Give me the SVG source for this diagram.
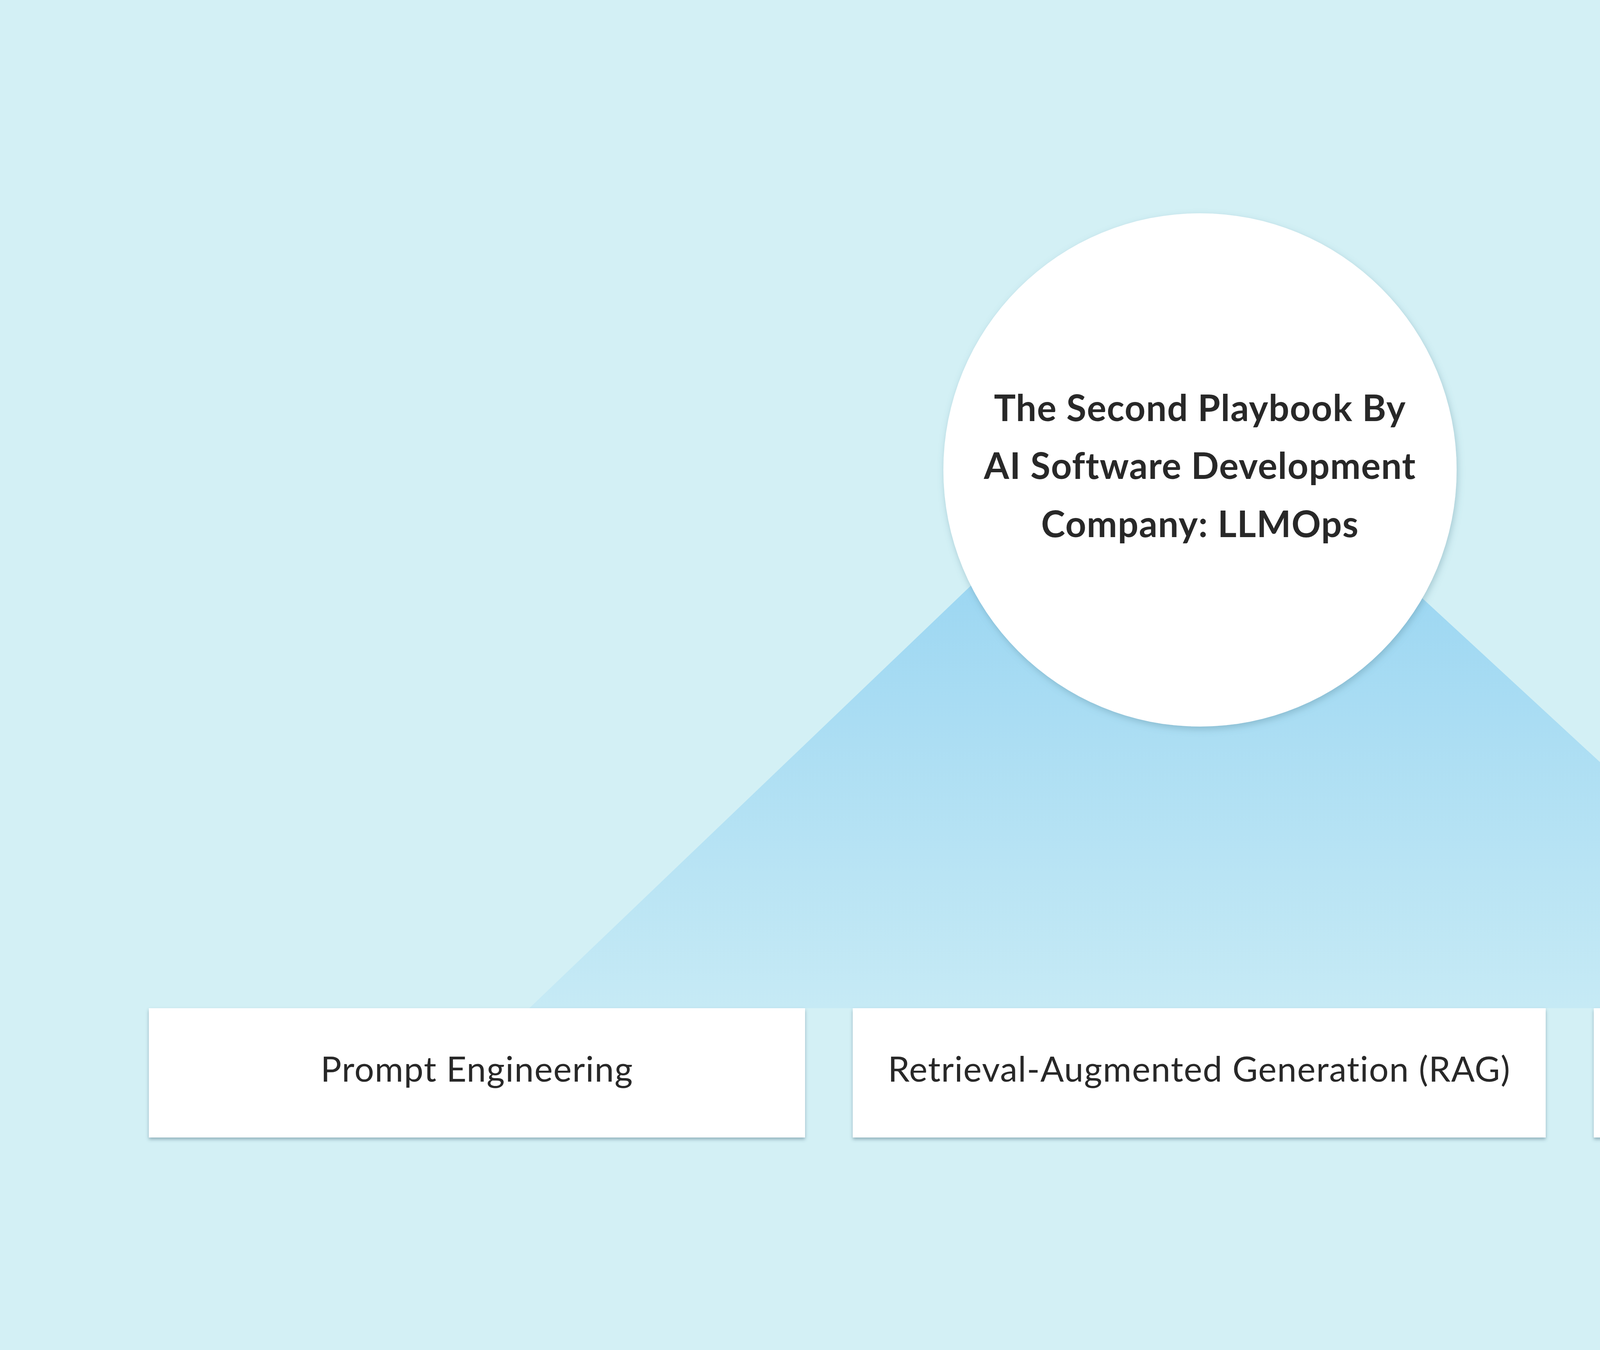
<svg xmlns="http://www.w3.org/2000/svg" width="6144" height="3456" viewBox="0 0 6144 3456">
  <defs>
    <linearGradient id="fanGrad" gradientUnits="userSpaceOnUse" x1="0" y1="1450" x2="0" y2="2580">
      <stop offset="0" stop-color="#9bd6f2"/>
      <stop offset="1" stop-color="#c6eaf5"/>
    </linearGradient>
    <filter id="circleShadow" x="-10%" y="-10%" width="120%" height="120%">
      <feDropShadow dx="3" dy="7" stdDeviation="9" flood-color="#4f7f92" flood-opacity="0.35"/>
    </filter>
    <filter id="boxShadow" x="-5%" y="-10%" width="110%" height="130%">
      <feDropShadow dx="0" dy="5" stdDeviation="4" flood-color="#3f6676" flood-opacity="0.45"/>
    </filter>
  </defs>
  <style>
    .box { fill: #ffffff; filter: url(#boxShadow); }
    .boxText { font-family: "Lato", "Liberation Sans", sans-serif; font-size: 89px; font-weight: 400; fill: #282828; text-anchor: middle; letter-spacing: 1.6px; font-variant-ligatures: none; }
    .title { font-family: "Lato", "Liberation Sans", sans-serif; font-size: 93px; font-weight: 700; fill: #282828; text-anchor: middle; letter-spacing: 1.5px; font-variant-ligatures: none; }
  </style>
  <rect x="0" y="0" width="6144" height="3456" fill="#d3f0f5"/>
  <g id="connectors">
    <polygon points="1355,2581 2700,1294 3440,1346 4779,2581" fill="url(#fanGrad)"/>
  </g>
  <g id="node-center">
    <circle cx="3072" cy="1203" r="657" fill="#ffffff" filter="url(#circleShadow)"/>
    <text class="title" x="3072" y="1078">The Second Playbook By</text>
    <text class="title" x="3072" y="1226">AI Software Development</text>
    <text class="title" x="3072" y="1375">Company: LLMOps</text>
  </g>
  <g id="node-prompt">
    <rect class="box" x="381" y="2581" width="1680" height="331"/>
    <text class="boxText" x="1221" y="2769">Prompt Engineering</text>
  </g>
  <g id="node-rag">
    <rect class="box" x="2183" y="2581" width="1774" height="331"/>
    <text class="boxText" x="3070" y="2769">Retrieval-Augmented Generation (RAG)</text>
  </g>
  <g id="node-monitoring">
    <rect class="box" x="4080" y="2581" width="1680" height="331"/>
    <text class="boxText" x="4920" y="2769">Monitoring</text>
  </g>
</svg>
